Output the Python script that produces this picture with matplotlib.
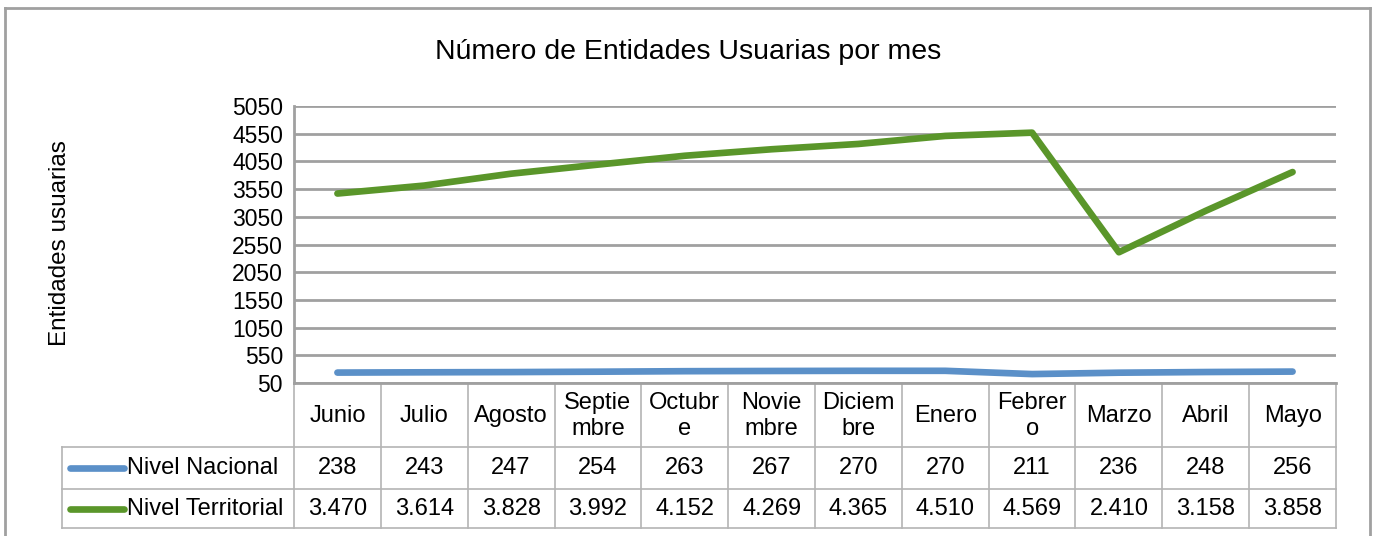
import numpy as np
import matplotlib.pyplot as plt
from matplotlib.lines import Line2D
from matplotlib.transforms import blended_transform_factory

plt.rcParams['font.family'] = ['Liberation Sans', 'DejaVu Sans']

# Data
meses = ['Junio', 'Julio', 'Agosto', 'Septie\nmbre', 'Octubr\ne', 'Novie\nmbre',
         'Diciem\nbre', 'Enero', 'Febrer\no', 'Marzo', 'Abril', 'Mayo']
nacional = [238, 243, 247, 254, 263, 267, 270, 270, 211, 236, 248, 256]
territorial = [3470, 3614, 3828, 3992, 4152, 4269, 4365, 4510, 4569, 2410, 3158, 3858]
series_names = ['Nivel Nacional', 'Nivel Territorial']
y_ticks = list(range(50, 5051, 500))

blue = '#5b90c8'
green = '#5a962a'
grid_col = '#a0a0a0'
table_col = '#b4b4b4'

W, H = 1374, 536
fig = plt.figure(figsize=(W / 100, H / 100), dpi=100)

# plot area in pixels
left, right, top, bottom = 294, 1336, 106, 383
ax = fig.add_axes([left / W, 1 - bottom / H, (right - left) / W, (bottom - top) / H])

x = np.arange(len(meses)) + 0.5
ax.plot(x, territorial, color=green, lw=4.8, solid_capstyle='round', zorder=3)
ax.plot(x, nacional, color=blue, lw=4.8, solid_capstyle='round', zorder=3)

ax.set_xlim(0, len(meses))
ax.set_ylim(50, 5050)
ax.set_yticks(y_ticks)
ax.set_yticklabels([str(t) for t in y_ticks], fontsize=16.5)
ax.set_xticks([])
ax.tick_params(axis='y', length=0, pad=8)
ax.grid(axis='y', color=grid_col, lw=2)
for s in ['top', 'right']:
    ax.spines[s].set_visible(False)
for s in ['left', 'bottom']:
    ax.spines[s].set_color(grid_col)
    ax.spines[s].set_linewidth(2)

# data table below the plot
ph = bottom - top
pw = right - left
def ay(py):
    return (bottom - py) / ph
def axx(px):
    return (px - left) / pw

trans = blended_transform_factory(ax.transData, ax.transAxes)
row_lines = [447, 489, 528]
for i in range(len(meses) + 1):
    ax.add_line(Line2D([i, i], [0, ay(528)], transform=trans, color=table_col,
                       lw=1.2, clip_on=False))
for py in row_lines:
    ax.add_line(Line2D([axx(62), 1], [ay(py), ay(py)], transform=ax.transAxes,
                       color=table_col, lw=1.2, clip_on=False))
ax.add_line(Line2D([axx(62), axx(62)], [ay(447), ay(528)], transform=ax.transAxes,
                   color=table_col, lw=1.2, clip_on=False))

fmt = lambda v: f'{v:,}'.replace(',', '.')
for i, m in enumerate(meses):
    ax.text(i + 0.5, ay(416), m, transform=trans, ha='center', va='center',
            fontsize=17, clip_on=False)
    ax.text(i + 0.5, ay(468), fmt(nacional[i]), transform=trans, ha='center',
            va='center', fontsize=17, clip_on=False)
    ax.text(i + 0.5, ay(509), fmt(territorial[i]), transform=trans, ha='center',
            va='center', fontsize=17, clip_on=False)

for name, col, py in zip(series_names, [blue, green], [468, 509]):
    ax.add_line(Line2D([axx(70), axx(124)], [ay(py), ay(py)], transform=ax.transAxes,
                       color=col, lw=4.8, solid_capstyle='round', clip_on=False))
    ax.text(axx(127), ay(py), name, transform=ax.transAxes, ha='left', va='center',
            fontsize=17, clip_on=False)

fig.text(688 / W, 1 - 52 / H, 'Número de Entidades Usuarias por mes',
         ha='center', va='center', fontsize=20.5)
fig.text(60 / W, 1 - 243 / H, 'Entidades usuarias', rotation=90,
         ha='center', va='center', fontsize=17.5)

# chart border
for xs, ys in [([5, 5], [8, 540]), ([5, 1370], [8, 8]), ([1370, 1370], [8, 540])]:
    fig.add_artist(Line2D([v / W for v in xs], [1 - v / H for v in ys],
                          color=grid_col, lw=2))

fig.savefig('out.png', dpi=100)
